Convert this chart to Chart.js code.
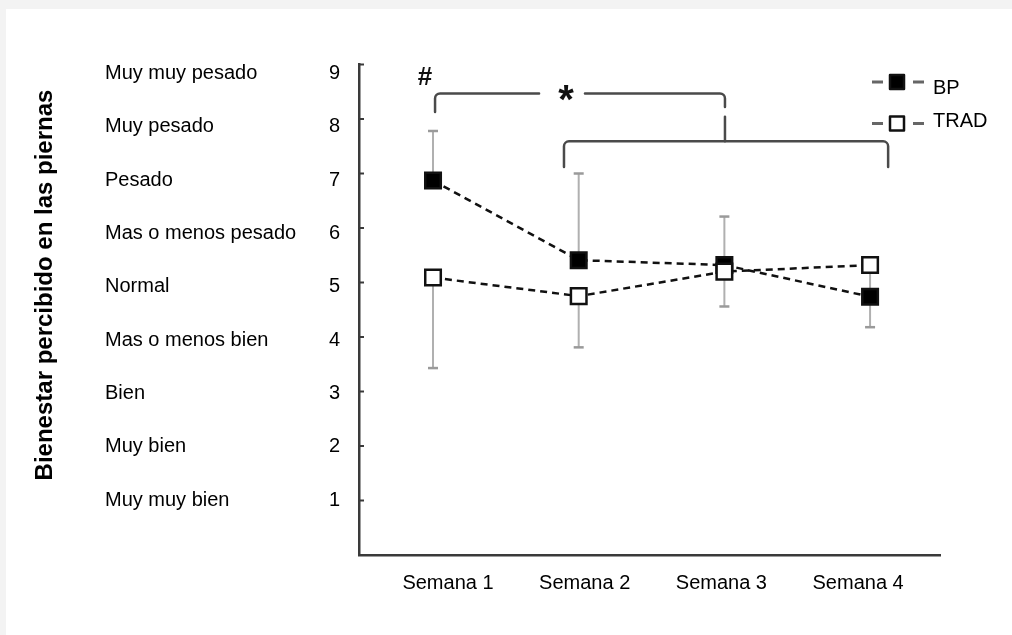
<!DOCTYPE html>
<html><head><meta charset="utf-8">
<script src="https://cdn.jsdelivr.net/npm/chart.js@4.4.0/dist/chart.umd.min.js"></script>
<style>
html,body{margin:0;padding:0;background:#f3f3f3;width:1012px;height:635px;overflow:hidden;}
#wrap{position:absolute;left:6px;top:9px;width:1006px;height:626px;background:#fff;}
canvas{display:block;}
</style></head><body>
<div id="wrap"><canvas id="c" width="1006" height="626"></canvas></div>
<script>
// ---- data ----
const weeks = ['Semana 1', 'Semana 2', 'Semana 3', 'Semana 4'];
const weekPos = [1, 2, 3, 4];
const yLevelValues = [1, 2, 3, 4, 5, 6, 7, 8, 9];
const yLevelLabels = ['Muy muy bien', 'Muy bien', 'Bien', 'Mas o menos bien', 'Normal',
                      'Mas o menos pesado', 'Pesado', 'Muy pesado', 'Muy muy pesado'];
const seriesNames = ['BP', 'TRAD'];
const bpMean = [6.87, 5.41, 5.32, 4.74];
const tradMean = [5.09, 4.75, 5.20, 5.32];
const bpErrUpper = [7.78, 7.00, 6.21, 5.30];
const bpErrLower = [null, null, null, 4.18];
const tradErrUpper = [null, null, null, null];
const tradErrLower = [3.43, 3.81, 4.56, null];
const yTitle = 'Bienestar percibido en las piernas';

// ---- annotations (data units) ----
const bracketTopLeft = [[1.014, 8.13], [1.014, 8.47], [1.728, 8.47]];
const bracketTopRight = [[2.043, 8.47], [3.004, 8.47], [3.004, 8.22]];
const bracketStem = [[3.004, 8.04], [3.004, 7.59]];
const bracketLow = [[1.899, 7.12], [1.899, 7.59], [4.124, 7.59], [4.124, 7.12]];
const markHash = {text: '#', x: 0.945, y: 8.76};
const markStar = {text: '*', x: 1.913, y: 8.53};

const FONT = "'Liberation Sans', Arial, sans-serif";
const AXIS = '#3a3a3a';

const overlay = {
  id: 'overlay',
  beforeDatasetsDraw(chart) {
    const {ctx, chartArea} = chart;
    const x = chart.scales.x, y = chart.scales.y;
    ctx.save();
    // inward tick marks
    ctx.strokeStyle = AXIS; ctx.lineWidth = 2;
    yLevelValues.forEach(v => {
      const py = y.getPixelForValue(v);
      ctx.beginPath(); ctx.moveTo(chartArea.left, py); ctx.lineTo(chartArea.left + 5, py); ctx.stroke();
    });
    // error bars
    const drawErr = (means, ends) => {
      ends.forEach((e, i) => {
        if (e === null) return;
        const px = x.getPixelForValue(weekPos[i]);
        const p0 = y.getPixelForValue(means[i]);
        const p1 = y.getPixelForValue(e);
        ctx.strokeStyle = '#b0b0b0'; ctx.lineWidth = 2;
        ctx.beginPath(); ctx.moveTo(px, p0); ctx.lineTo(px, p1); ctx.stroke();
        ctx.strokeStyle = '#9a9a9a'; ctx.lineWidth = 2.5;
        ctx.beginPath(); ctx.moveTo(px - 5, p1); ctx.lineTo(px + 5, p1); ctx.stroke();
      });
    };
    drawErr(bpMean, bpErrUpper); drawErr(bpMean, bpErrLower);
    drawErr(tradMean, tradErrUpper); drawErr(tradMean, tradErrLower);
    ctx.restore();
  },
  afterDraw(chart) {
    const {ctx} = chart;
    const x = chart.scales.x, y = chart.scales.y;
    ctx.save();
    // brackets
    ctx.strokeStyle = '#4a4a4a'; ctx.lineWidth = 2.5; ctx.lineCap = 'round'; ctx.lineJoin = 'round';
    const path = (pts) => {
      const P = pts.map(p => [x.getPixelForValue(p[0]), y.getPixelForValue(p[1])]);
      ctx.beginPath(); ctx.moveTo(P[0][0], P[0][1]);
      for (let i = 1; i < P.length - 1; i++) ctx.arcTo(P[i][0], P[i][1], P[i + 1][0], P[i + 1][1], 5);
      ctx.lineTo(P[P.length - 1][0], P[P.length - 1][1]);
      ctx.stroke();
    };
    path(bracketTopLeft); path(bracketTopRight); path(bracketStem); path(bracketLow);
    // marks
    ctx.fillStyle = '#111'; ctx.textAlign = 'center'; ctx.textBaseline = 'middle';
    ctx.font = 'bold 26px ' + FONT;
    ctx.fillText(markHash.text, x.getPixelForValue(markHash.x), y.getPixelForValue(markHash.y));
    const starSize = 40;
    ctx.font = 'bold ' + starSize + 'px ' + FONT;
    ctx.textBaseline = 'alphabetic';
    ctx.fillText(markStar.text, x.getPixelForValue(markStar.x), y.getPixelForValue(markStar.y) + 0.565 * starSize);
    // legend
    const rows = [{cy: 73, ty: 79}, {cy: 114.5, ty: 112}];
    chart.data.datasets.forEach((ds, i) => {
      const r = rows[i];
      ctx.strokeStyle = '#666'; ctx.lineWidth = 3; ctx.lineCap = 'butt';
      ctx.beginPath(); ctx.moveTo(866, r.cy); ctx.lineTo(877, r.cy); ctx.moveTo(907, r.cy); ctx.lineTo(918, r.cy); ctx.stroke();
      ctx.fillStyle = ds.pointBackgroundColor; ctx.strokeStyle = '#111'; ctx.lineWidth = 2.5;
      ctx.beginPath(); ctx.rect(884, r.cy - 7, 14, 14); ctx.fill(); ctx.stroke();
      ctx.fillStyle = '#000'; ctx.font = '20px ' + FONT; ctx.textAlign = 'left'; ctx.textBaseline = 'middle';
      ctx.fillText(ds.label, 927, r.ty);
    });
    // y title
    ctx.translate(39.5, 276); ctx.rotate(-Math.PI / 2);
    ctx.font = 'bold 24px ' + FONT; ctx.textAlign = 'center'; ctx.textBaseline = 'middle'; ctx.fillStyle = '#000';
    ctx.fillText(yTitle, 0, 0);
    ctx.restore();
  }
};

const lineStyle = {borderColor: '#111', borderWidth: 2.5, borderDash: [7, 5], pointStyle: 'rect',
  pointRadius: 11, pointHoverRadius: 11, pointBorderColor: '#111', pointBorderWidth: 2.5, fill: false, tension: 0};

new Chart(document.getElementById('c'), {
  type: 'line',
  data: {
    datasets: [
      Object.assign({label: seriesNames[0], data: weekPos.map((w, i) => ({x: w, y: bpMean[i]})),
        pointBackgroundColor: '#000', order: 1}, lineStyle),
      Object.assign({label: seriesNames[1], data: weekPos.map((w, i) => ({x: w, y: tradMean[i]})),
        pointBackgroundColor: '#fff', order: 0}, lineStyle)
    ]
  },
  options: {
    responsive: false, animation: false, devicePixelRatio: 1,
    layout: {padding: {left: 99, top: 55.5, right: 72, bottom: 0}},
    plugins: {legend: {display: false}, tooltip: {enabled: false}},
    scales: {
      x: {type: 'linear', min: 0.492, max: 4.48, display: false},
      y: {type: 'linear', min: 0, max: 9, display: false},
      xl: {type: 'linear', position: 'bottom', min: 0.349, max: 4.599,
        afterBuildTicks: s => { s.ticks = weekPos.map(v => ({value: v})); },
        ticks: {callback: (v, i) => weeks[i], font: {family: FONT, size: 20}, color: '#000', padding: 16,
          maxRotation: 0, minRotation: 0, autoSkip: false},
        grid: {display: false, drawTicks: false},
        border: {display: true, color: AXIS, width: 2.5},
        afterFit: s => { s.height = 80; }},
      yn: {type: 'linear', position: 'left', weight: 0, min: -0.032, max: 9.169,
        afterBuildTicks: s => { s.ticks = yLevelValues.map(v => ({value: v})); },
        ticks: {callback: (v, i) => String(yLevelValues[i]), font: {family: FONT, size: 20}, color: '#000', padding: 19, autoSkip: false},
        grid: {display: false, drawTicks: false},
        border: {display: true, color: AXIS, width: 2.5},
        afterFit: s => { s.width = 45; }},
      yt: {type: 'linear', position: 'left', weight: 1, min: -0.032, max: 9.169,
        afterBuildTicks: s => { s.ticks = yLevelValues.map(v => ({value: v})); },
        ticks: {callback: (v, i) => yLevelLabels[i], font: {family: FONT, size: 20}, color: '#000', crossAlign: 'far', autoSkip: false},
        grid: {display: false, drawTicks: false},
        border: {display: false},
        afterFit: s => { s.width = 209; }}
    }
  },
  plugins: [overlay]
});
</script>
</body></html>
